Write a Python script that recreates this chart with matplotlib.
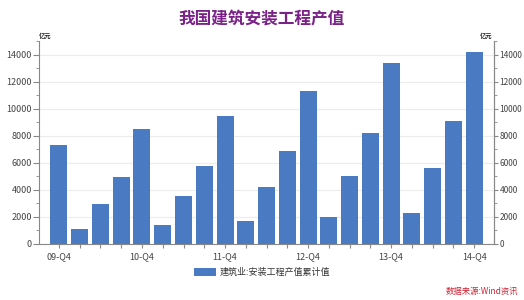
import matplotlib
matplotlib.use("Agg")
import matplotlib.pyplot as plt
from matplotlib.ticker import MultipleLocator

plt.rcParams['font.family'] = ['Noto Sans CJK SC', 'DejaVu Sans']

quarters = ["09-Q4",
            "10-Q1", "10-Q2", "10-Q3", "10-Q4",
            "11-Q1", "11-Q2", "11-Q3", "11-Q4",
            "12-Q1", "12-Q2", "12-Q3", "12-Q4",
            "13-Q1", "13-Q2", "13-Q3", "13-Q4",
            "14-Q1", "14-Q2", "14-Q3", "14-Q4"]
values = [7350,
          1100, 2950, 4950, 8480,
          1380, 3580, 5800, 9500,
          1680, 4180, 6850, 11330,
          2000, 5000, 8200, 13400,
          2300, 5630, 9100, 14200]
shown_labels = ["09-Q4", "10-Q4", "11-Q4", "12-Q4", "13-Q4", "14-Q4"]

title = "我国建筑安装工程产值"
series_name = "建筑业:安装工程产值累计值"
unit = "亿元"
source = "数据来源:Wind资讯"

fig = plt.figure(figsize=(5.24, 3.0), dpi=100)
ax = fig.add_axes([0.0744, 0.187, 0.8686, 0.675])

x = list(range(len(quarters)))
bar_color = "#4a7bc2"
bars = ax.bar(x, values, width=0.82, color=bar_color, zorder=3, label=series_name)

ax.set_xlim(-0.96, len(quarters) - 0.04)
ax.set_ylim(0, 15000)
ax.yaxis.set_major_locator(MultipleLocator(2000))
ax.yaxis.set_minor_locator(MultipleLocator(1000))
ax.grid(axis='y', which='major', color='#ececec', linewidth=0.8, zorder=0)

ax.set_xticks(x)
ax.set_xticklabels([q if q in shown_labels else "" for q in quarters])
ax.tick_params(axis='x', length=3, color='#888888', labelsize=6.5, labelcolor='#444444', pad=3)
ax.tick_params(axis='y', which='major', length=4, color='#888888', labelsize=6.5, labelcolor='#444444', pad=1)
ax.tick_params(axis='y', which='minor', length=2, color='#888888')

for s in ['top']:
    ax.spines[s].set_visible(False)
for s in ['left', 'right', 'bottom']:
    ax.spines[s].set_color('#888888')
    ax.spines[s].set_linewidth(0.8)

ax2 = ax.twinx()
ax2.set_ylim(ax.get_ylim())
ax2.yaxis.set_major_locator(MultipleLocator(2000))
ax2.yaxis.set_minor_locator(MultipleLocator(1000))
ax2.tick_params(axis='y', which='major', length=3, color='#888888', labelsize=6, labelcolor='#444444', pad=1)
ax2.tick_params(axis='y', which='minor', length=2, color='#888888')
for s in ['top', 'left', 'bottom']:
    ax2.spines[s].set_visible(False)
ax2.spines['right'].set_color('#888888')
ax2.spines['right'].set_linewidth(0.8)

fig.text(0.5, 0.937, title, ha='center', va='center', fontsize=12, fontweight='bold', color='#7b2289')
fig.text(0.074, 0.87, unit, ha='left', va='bottom', fontsize=4.5, fontweight='bold', color='#222222')
fig.text(0.940, 0.87, unit, ha='right', va='bottom', fontsize=4.5, fontweight='bold', color='#222222')

leg = fig.legend(handles=[bars], labels=[series_name], loc='center', bbox_to_anchor=(0.5, 0.092),
                 frameon=False, fontsize=6.5, handlelength=2.4, handleheight=1.1, handletextpad=0.4)
for t in leg.get_texts():
    t.set_color('#333333')

fig.text(0.99, 0.012, source, ha='right', va='bottom', fontsize=6, style='italic', color='#cc2233')

fig.savefig("out.png", dpi=100)
